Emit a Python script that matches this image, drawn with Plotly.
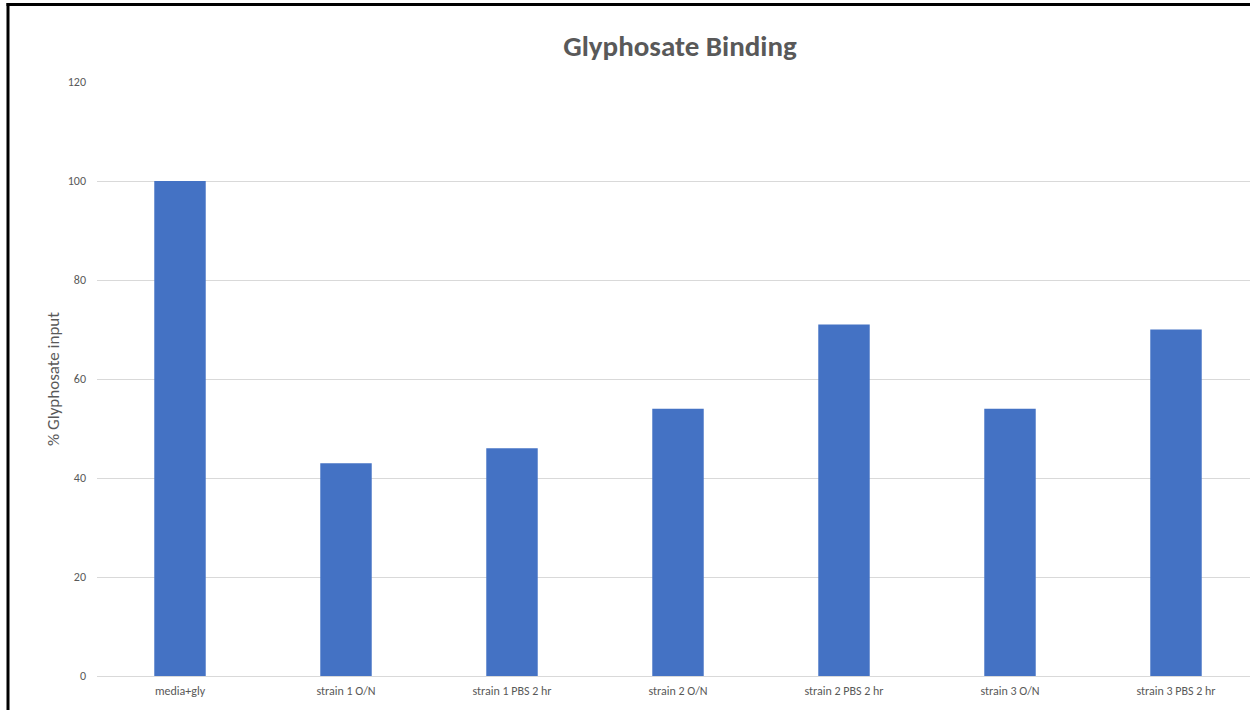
import plotly.graph_objects as go

categories = ["media+gly", "strain 1 O/N", "strain 1 PBS 2 hr", "strain 2 O/N",
              "strain 2 PBS 2 hr", "strain 3 O/N", "strain 3 PBS 2 hr"]
glyphosate_pct = [100, 43, 46, 54, 71, 54, 70]
y_ticks = [0, 20, 40, 60, 80, 100, 120]

W, H = 1250, 710
left, top, bottom = 97, 82, 34
plot_w = W - left
plot_h = H - top - bottom
cat_px = 166  # pixel width of one category slot

fig = go.Figure(go.Bar(
    x=list(range(len(categories))),
    y=glyphosate_pct,
    width=0.31,
    marker=dict(color="#4472C4", line=dict(width=0)),
))

font_family = "Carlito, Calibri, 'Open Sans', sans-serif"
grey = "#595959"

fig.update_layout(
    width=W, height=H,
    margin=dict(l=left, r=0, t=top, b=bottom, autoexpand=False),
    paper_bgcolor="white", plot_bgcolor="white",
    showlegend=False,
    font=dict(family=font_family, color=grey, size=12),
    title=dict(text="<b>Glyphosate Binding</b>", x=680 / W, xref="container",
               xanchor="center", y=1 - 46 / H, yref="container", yanchor="middle",
               font=dict(size=29, color=grey, family=font_family)),
    xaxis=dict(
        range=[-0.5, -0.5 + plot_w / cat_px],
        tickmode="array", tickvals=list(range(len(categories))), ticktext=categories,
        showgrid=False, zeroline=False, showline=False, ticks="",
        ticklabelstandoff=6,
        tickfont=dict(size=12, color=grey),
    ),
    yaxis=dict(
        range=[0, 120], tickvals=y_ticks,
        showgrid=True, gridcolor="#D9D9D9", gridwidth=1,
        zeroline=True, zerolinecolor="#D9D9D9", zerolinewidth=1,
        showline=False, ticks="", ticklabelstandoff=10,
        tickfont=dict(size=12, color=grey),
        title=dict(text="% Glyphosate input", standoff=3,
                   font=dict(size=17, color=grey)),
    ),
    shapes=[
        # black frame along the left and top edges
        dict(type="line", xref="paper", yref="paper",
             x0=(8 - left) / plot_w, x1=(8 - left) / plot_w,
             y0=(H - bottom - 3) / plot_h, y1=(H - bottom - 720) / plot_h,
             line=dict(color="black", width=3)),
        dict(type="line", xref="paper", yref="paper",
             x0=(6.5 - left) / plot_w, x1=(1260 - left) / plot_w,
             y0=(H - bottom - 4.5) / plot_h, y1=(H - bottom - 4.5) / plot_h,
             line=dict(color="black", width=3)),
    ],
)

fig.write_html("out.html")
